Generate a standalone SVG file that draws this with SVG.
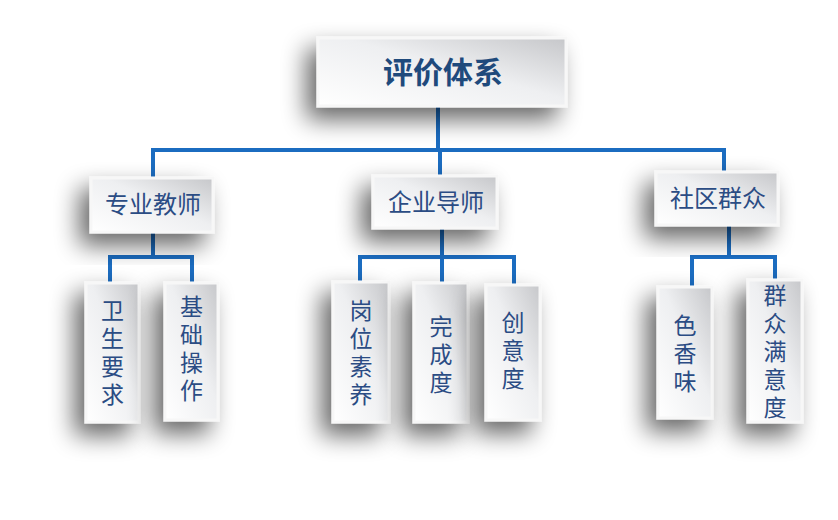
<svg xmlns="http://www.w3.org/2000/svg" width="838" height="520" viewBox="0 0 838 520">
<defs>
<linearGradient id="g" x1="0" y1="1" x2="1" y2="0">
<stop offset="0" stop-color="#ffffff"/>
<stop offset="0.55" stop-color="#eeeff1"/>
<stop offset="1" stop-color="#c6c7ca"/>
</linearGradient>
<filter id="sh" x="-80%" y="-60%" width="260%" height="220%">
<feGaussianBlur in="SourceAlpha" stdDeviation="12"/>
<feOffset dx="-10" dy="12" result="b"/>
<feComponentTransfer><feFuncA type="linear" slope="0.6"/></feComponentTransfer>
<feMerge><feMergeNode/><feMergeNode in="SourceGraphic"/></feMerge>
</filter>
<style>
.box{fill:url(#g);stroke:#f7f7f7;stroke-width:3;filter:url(#sh)}
.ln{fill:none;stroke:#1b6cc0;stroke-width:4}
.t{font-family:"Noto Sans CJK SC","Noto Sans",sans-serif;fill:#2b4c84;text-anchor:middle;font-size:24px}
.v{font-size:23px;writing-mode:vertical-rl;letter-spacing:5px}
.title{font-size:30px;font-weight:bold;fill:#1f4a7c}
</style>
</defs>
<rect width="838" height="520" fill="#ffffff"/>
<g id="connectors">
<path class="ln" d="M438 107 V150 M153 178 V150 H724 V172 M440 150 V176"/>
<path class="ln" d="M153 232 V257 M110 283 V257 H192 V283"/>
<path class="ln" d="M442 228 V257 M360 282 V257 H514 V285 M442 257 V283"/>
<path class="ln" d="M729 225 V257 M692 287 V257 H775 V280"/>
</g>
<g id="n0"><rect class="box" x="318" y="38" width="248" height="68"/><text class="t title" x="443" y="83">评价体系</text></g>
<g id="n1"><rect class="box" x="91" y="178" width="122" height="54"/><text class="t" x="153" y="213">专业教师</text></g>
<g id="n2"><rect class="box" x="373" y="176" width="124" height="52"/><text class="t" x="436" y="211">企业导师</text></g>
<g id="n3"><rect class="box" x="656" y="172" width="122" height="53"/><text class="t" x="718" y="207">社区群众</text></g>
<g id="n4"><rect class="box" x="86" y="283" width="53" height="139"/><text class="t v" x="112.5" y="355">卫生要求</text></g>
<g id="n5"><rect class="box" x="165" y="283" width="53" height="137"/><text class="t v" x="191.5" y="351">基础操作</text></g>
<g id="n6"><rect class="box" x="333" y="282" width="56" height="140"/><text class="t v" x="361" y="355">岗位素养</text></g>
<g id="n7"><rect class="box" x="414" y="283" width="54" height="139"/><text class="t v" x="441" y="357">完成度</text></g>
<g id="n8"><rect class="box" x="486" y="285" width="54" height="135"/><text class="t v" x="513" y="353">创意度</text></g>
<g id="n9"><rect class="box" x="658" y="287" width="54" height="131"/><text class="t v" x="685" y="356">色香味</text></g>
<g id="n10"><rect class="box" x="748" y="280" width="54" height="142"/><text class="t v" x="775" y="354">群众满意度</text></g>
</svg>
